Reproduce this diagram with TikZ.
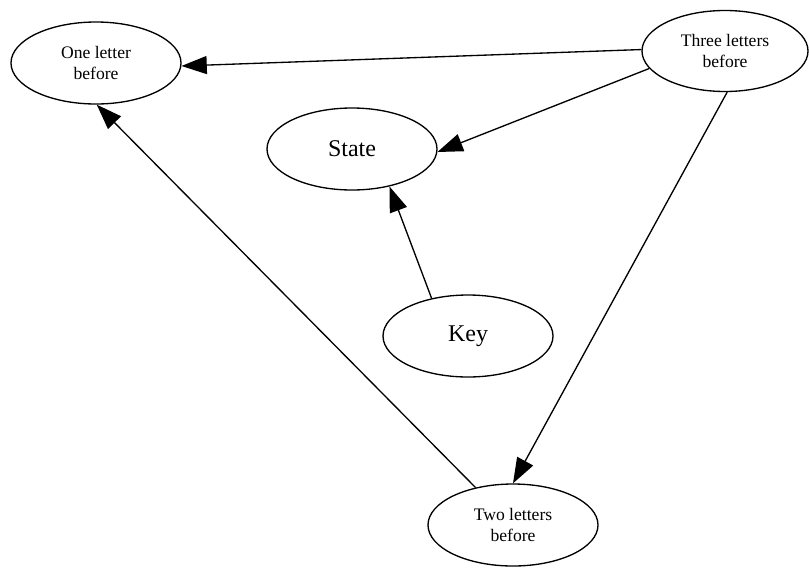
\documentclass[tikz,border=0pt]{standalone}
\usepackage{fontspec}
\setmainfont{Liberation Serif}
\usetikzlibrary{shapes.geometric,arrows.meta}
\begin{document}
\begin{tikzpicture}[x=0.75pt,y=-0.75pt,
  bubble/.style={draw, ellipse, line width=1pt, inner sep=0pt,
    minimum width=127.5pt, minimum height=61.5pt, align=center,
    font=\fontsize{13.2}{16.3}\selectfont},
  bigbubble/.style={bubble, font=\fontsize{18}{21.6}\selectfont},
  link/.style={line width=1pt, -{Triangle[length=19pt,width=13.5pt]}}]
\useasboundingbox (0,0) rectangle (809,568);

% Nodes
\node[bubble] (one) at (96,63) {One letter\\before};
\node[bubble, minimum width=124.5pt, minimum height=60.75pt] (three) at (725,51) {Three letters\\before};
\node[bigbubble] (state) at (352,149) {State};
\node[bigbubble] (key) at (468,336) {Key};
\node[bubble] (two) at (513,525) {Two letters\\before};

% Edges
\draw[link] (three.179) -- (one.-2);
\draw[link] (three.-167) -- (state.-2);
\draw[link] (three.-87) -- (two.90);
\draw[link] (two.135) -- (one.-89);
\draw[link] (key.134) -- (state.-45);

\end{tikzpicture}
\end{document}
